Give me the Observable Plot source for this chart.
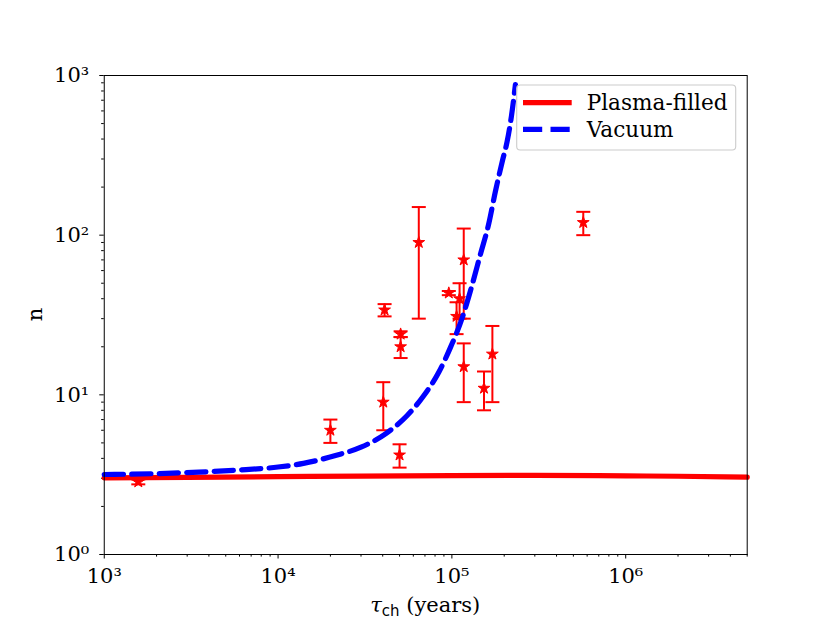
<!DOCTYPE html>
<html><head><meta charset="utf-8">
<script src="https://cdn.jsdelivr.net/npm/d3@7"></script>
<script src="https://cdn.jsdelivr.net/npm/@observablehq/plot@0.6"></script>
<style>body{margin:0;background:#fff}</style>
</head><body><div id="chart"></div>
<script>
// Observed points (tau_ch in years, braking index n, symmetric error)
const tauObs = [1.57e3, 2.0e4, 4.03e4, 4.1e4, 6.45e4, 5.07e4, 5.07e4, 5.0e4, 9.6e4, 1.107e5, 1.064e5, 1.17e5, 1.17e5, 1.53e5, 1.71e5, 5.7e5];
const nObs   = [2.85, 6, 9, 34, 90, 24, 20, 4.2, 43.4, 40, 31, 70, 15, 11, 18, 120];
const nErr   = [0.1, 1, 3, 3, 60, 1, 3, 0.7, 1.3, 10, 7, 40, 6, 3, 9, 20];

// Model curves
const plasmaTau = [1e3, 3e3, 1e4, 3e4, 1e5, 3e5, 1e6, 2e6, 5e6];
const plasmaN   = [3.02, 3.04, 3.07, 3.10, 3.12, 3.13, 3.11, 3.09, 3.05];
const vacuumTau = [1e3, 2e3, 3.5e3, 6e3, 1e4, 1.4e4, 2.14e4, 3e4, 4.15e4, 5.53e4, 6.9e4, 8.42e4, 9.83e4, 1.15e5, 1.28e5, 1.46e5, 1.63e5, 1.78e5, 1.95e5, 2.08e5, 2.2e5, 2.32e5];
const vacuumN   = [3.17, 3.21, 3.28, 3.38, 3.53, 3.72, 4.17, 4.70, 5.70, 7.42, 9.9, 13.9, 19.9, 30.6, 45, 76, 118, 188, 290, 387, 555, 877];

// Ticks
const xTicks = [1e3, 1e4, 1e5, 1e6];
const xTickLabels = ["10³", "10⁴", "10⁵", "10⁶"];
const yTicks = [1, 10, 100, 1000];
const yTickLabels = ["10⁰", "10¹", "10²", "10³"];
const legendLabels = ["Plasma-filled", "Vacuum"];

const obs = tauObs.map((t, i) => ({tau: t, n: nObs[i], lo: nObs[i] - nErr[i], hi: nObs[i] + nErr[i]}));
const plasma = plasmaTau.map((t, i) => ({tau: t, n: plasmaN[i]}));
const vacuum = vacuumTau.map((t, i) => ({tau: t, n: vacuumN[i]}));

const minor = (e0, e1, max) => { const out = []; for (let e = e0; e < e1; e++) for (let k = 2; k <= 9; k++) { const v = k * 10 ** e; if (v <= max) out.push(v); } return out; };
const xMinor = minor(3, 7, 5e6);
const yMinor = minor(0, 3, 1000);

const cap = { draw(ctx, size) { const w = Math.sqrt(size / Math.PI); ctx.moveTo(-w, 0); ctx.lineTo(w, 0); } };

const W = 830, H = 623, mL = 103.75, mR = 83.3, mT = 75, mB = 69;
const RED = "#ff0000", BLUE = "#0000ff";
const serif = "'DejaVu Serif', serif";

const chart = Plot.plot({
  width: W, height: H,
  marginLeft: mL, marginRight: mR, marginTop: mT, marginBottom: mB,
  style: {fontFamily: serif, fontSize: "21px", background: "white", color: "black", overflow: "visible"},
  x: {type: "log", domain: [1e3, 5e6]},
  y: {type: "log", domain: [1, 1000]},
  marks: [
    Plot.axisX({ticks: xMinor, tickSize: 2.6, tickFormat: () => "", label: null}),
    Plot.axisX({ticks: xTicks, tickSize: 4.5, tickPadding: 9.5, tickFormat: d => xTickLabels[xTicks.indexOf(d)], label: null}),
    Plot.axisY({ticks: yMinor, tickSize: 2.6, tickFormat: () => "", label: null}),
    Plot.axisY({ticks: yTicks, tickSize: 4.5, tickPadding: 10.5, tickFormat: d => yTickLabels[yTicks.indexOf(d)], label: null}),
    Plot.ruleX(obs, {x: "tau", y1: "lo", y2: "hi", stroke: RED, strokeWidth: 2}),
    Plot.dot(obs, {x: "tau", y: "lo", symbol: cap, r: 7, fill: "none", stroke: RED, strokeWidth: 2}),
    Plot.dot(obs, {x: "tau", y: "hi", symbol: cap, r: 7, fill: "none", stroke: RED, strokeWidth: 2}),
    Plot.dot(obs, {x: "tau", y: "n", symbol: "star", r: 3.7, fill: RED, stroke: RED, strokeWidth: 1}),
    Plot.line(plasma, {x: "tau", y: "n", stroke: RED, strokeWidth: 5.2, curve: "monotone-x"}),
    Plot.line(vacuum, {x: "tau", y: "n", stroke: BLUE, strokeWidth: 5.2, strokeDasharray: "19.2,8.3", curve: "monotone-x"}),
    Plot.frame({stroke: "black", strokeWidth: 1})
  ]
});
document.getElementById("chart").appendChild(chart);

const svg = d3.select(chart);
// x label: tau_ch (years)
const xl = svg.append("text").attr("x", (mL + W - mR) / 2).attr("y", 612).attr("text-anchor", "middle")
  .attr("font-family", serif).attr("font-size", 21).attr("fill", "black");
xl.append("tspan").attr("font-style", "italic").text("τ");
xl.append("tspan").attr("font-family", "'DejaVu Sans', sans-serif").attr("font-size", 15).attr("dy", 4).text("ch");
xl.append("tspan").attr("dy", -4).text(" (years)");
// y label
svg.append("text").attr("transform", `translate(41.7,${(mT + H - mB) / 2}) rotate(-90)`).attr("text-anchor", "middle")
  .attr("font-family", serif).attr("font-size", 21).attr("fill", "black").text("n");

// legend
const lg = svg.append("g").attr("text-anchor", "start");
lg.append("rect").attr("x", 516.7).attr("y", 85).attr("width", 219).attr("height", 65).attr("rx", 3.5)
  .attr("fill", "white").attr("fill-opacity", 0.8).attr("stroke", "#cccccc").attr("stroke-width", 1.1);
lg.append("line").attr("x1", 523).attr("x2", 571.7).attr("y1", 102.7).attr("y2", 102.7).attr("stroke", RED).attr("stroke-width", 5.2);
lg.append("line").attr("x1", 523).attr("x2", 571.7).attr("y1", 129.3).attr("y2", 129.3).attr("stroke", BLUE).attr("stroke-width", 5.2).attr("stroke-dasharray", "19.2,8.3");
lg.append("text").attr("x", 586.7).attr("y", 110).attr("text-anchor", "start").attr("font-family", serif).attr("font-size", 21.6).attr("fill", "black").text(legendLabels[0]);
lg.append("text").attr("x", 586.7).attr("y", 137).attr("text-anchor", "start").attr("font-family", serif).attr("font-size", 21.6).attr("fill", "black").text(legendLabels[1]);
</script>
</body></html>
